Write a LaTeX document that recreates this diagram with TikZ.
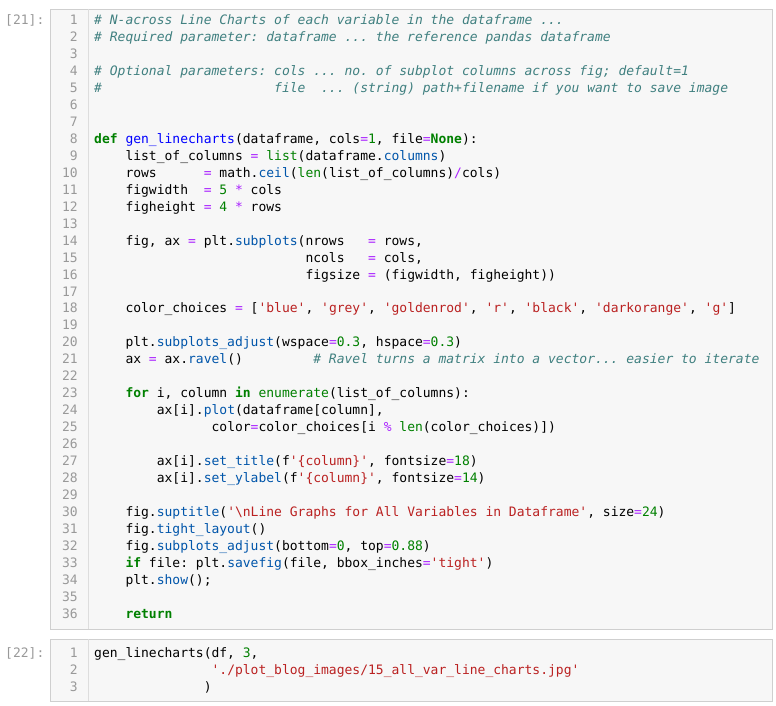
\documentclass[tikz,border=0pt]{standalone}
\usepackage{fontspec}
\newfontfamily\cf{DejaVu Sans Mono}
\frenchspacing
\definecolor{kwc}{HTML}{008000}
\definecolor{opc}{HTML}{AA22FF}
\definecolor{fnc}{HTML}{0000FF}
\definecolor{prc}{HTML}{0055AA}
\definecolor{stc}{HTML}{BA2121}
\definecolor{cmc}{HTML}{408080}
\definecolor{gray9}{HTML}{999999}
\definecolor{cellbg}{HTML}{F7F7F7}
\definecolor{cellbd}{HTML}{CFCFCF}
\newcommand\kw[1]{\textcolor{kwc}{\bfseries #1}}
\newcommand\nm[1]{\textcolor{kwc}{#1}}
\newcommand\bi[1]{\textcolor{kwc}{#1}}
\newcommand\op[1]{\textcolor{opc}{#1}}
\newcommand\fn[1]{\textcolor{fnc}{#1}}
\newcommand\pr[1]{\textcolor{prc}{#1}}
\newcommand\st[1]{\textcolor{stc}{#1}}
\newcommand\cm[1]{\textcolor{cmc}{\itshape #1}}
\begin{document}
\begin{tikzpicture}[x=1pt,y=-1pt,
  code/.style={anchor=base west,inner sep=0pt,font=\cf\fontsize{13}{15}\selectfont\frenchspacing},
  lno/.style={anchor=base east,inner sep=0pt,text=gray9,font=\cf\fontsize{13}{15}\selectfont},
  cell/.style={draw=cellbd,fill=cellbg,line width=0.8pt}]
\useasboundingbox (0,0) rectangle (776,706);
\draw[cell] (50,9) rectangle (772,629);
\draw[cellbd!70] (88,9) -- (88,629);
\draw[cell] (50,639) rectangle (772,701);
\draw[cellbd!70] (88,639) -- (88,701);
\node[code,text=gray9] (p1) at (5,24.5) {[21]:};
\node[code,text=gray9] (p2) at (5,657.5) {[22]:};
\foreach \i in {1,...,36} \node[lno] (n\i) at (78,{24.5+(\i-1)*16.97}) {\i};
\foreach \i in {1,2,3} \node[lno] (m\i) at (78,{657.5+(\i-1)*16.97}) {\i};
\def\L#1#2{\node[code] (l#1) at (94,{24.5+(#1-1)*16.97}) {#2};}
\L{1}{\cm{\# N-across Line Charts of each variable in the dataframe ...}}
\L{2}{\cm{\# Required parameter: dataframe ... the reference pandas dataframe}}
\L{4}{\cm{\# Optional parameters: cols ... no. of subplot columns across fig; default=1}}
\L{5}{\cm{\#~~~~~~~~~~~~~~~~~~~~~~file~~...~(string) path+filename if you want to save image}}
\L{8}{\kw{def} \fn{gen\_linecharts}(dataframe, cols\op{=}\nm{1}, file\op{=}\kw{None}):}
\L{9}{~~~~list\_of\_columns \op{=} \bi{list}(dataframe.\pr{columns})}
\L{10}{~~~~rows~~~~~~\op{=} math.\pr{ceil}(\bi{len}(list\_of\_columns)\op{/}cols)}
\L{11}{~~~~figwidth~~\op{=} \nm{5} \op{*} cols}
\L{12}{~~~~figheight \op{=} \nm{4} \op{*} rows}
\L{14}{~~~~fig, ax \op{=} plt.\pr{subplots}(nrows~~~\op{=} rows,}
\L{15}{~~~~~~~~~~~~~~~~~~~~~~~~~~~ncols~~~\op{=} cols,}
\L{16}{~~~~~~~~~~~~~~~~~~~~~~~~~~~figsize \op{=} (figwidth, figheight))}
\L{18}{~~~~color\_choices \op{=} [\st{'blue'}, \st{'grey'}, \st{'goldenrod'}, \st{'r'}, \st{'black'}, \st{'darkorange'}, \st{'g'}]}
\L{20}{~~~~plt.\pr{subplots\_adjust}(wspace\op{=}\nm{0.3}, hspace\op{=}\nm{0.3})}
\L{21}{~~~~ax \op{=} ax.\pr{ravel}()~~~~~~~~~\cm{\# Ravel turns a matrix into a vector... easier to iterate}}
\L{23}{~~~~\kw{for} i, column \kw{in} \bi{enumerate}(list\_of\_columns):}
\L{24}{~~~~~~~~ax[i].\pr{plot}(dataframe[column],}
\L{25}{~~~~~~~~~~~~~~~color\op{=}color\_choices[i \op{\%} \bi{len}(color\_choices)])}
\L{27}{~~~~~~~~ax[i].\pr{set\_title}(f\st{'\{column\}'}, fontsize\op{=}\nm{18})}
\L{28}{~~~~~~~~ax[i].\pr{set\_ylabel}(f\st{'\{column\}'}, fontsize\op{=}\nm{14})}
\L{30}{~~~~fig.\pr{suptitle}(\st{'\textbackslash nLine Graphs for All Variables in Dataframe'}, size\op{=}\nm{24})}
\L{31}{~~~~fig.\pr{tight\_layout}()}
\L{32}{~~~~fig.\pr{subplots\_adjust}(bottom\op{=}\nm{0}, top\op{=}\nm{0.88})}
\L{33}{~~~~\kw{if} file: plt.\pr{savefig}(file, bbox\_inches\op{=}\st{'tight'})}
\L{34}{~~~~plt.\pr{show}();}
\L{36}{~~~~\kw{return}}
\node[code] (c1) at (94,657.5) {gen\_linecharts(df, \nm{3},};
\node[code] (c2) at (94,674.47) {~~~~~~~~~~~~~~~\st{'./plot\_blog\_images/15\_all\_var\_line\_charts.jpg'}};
\node[code] (c3) at (94,691.44) {~~~~~~~~~~~~~~)};
\end{tikzpicture}
\end{document}
